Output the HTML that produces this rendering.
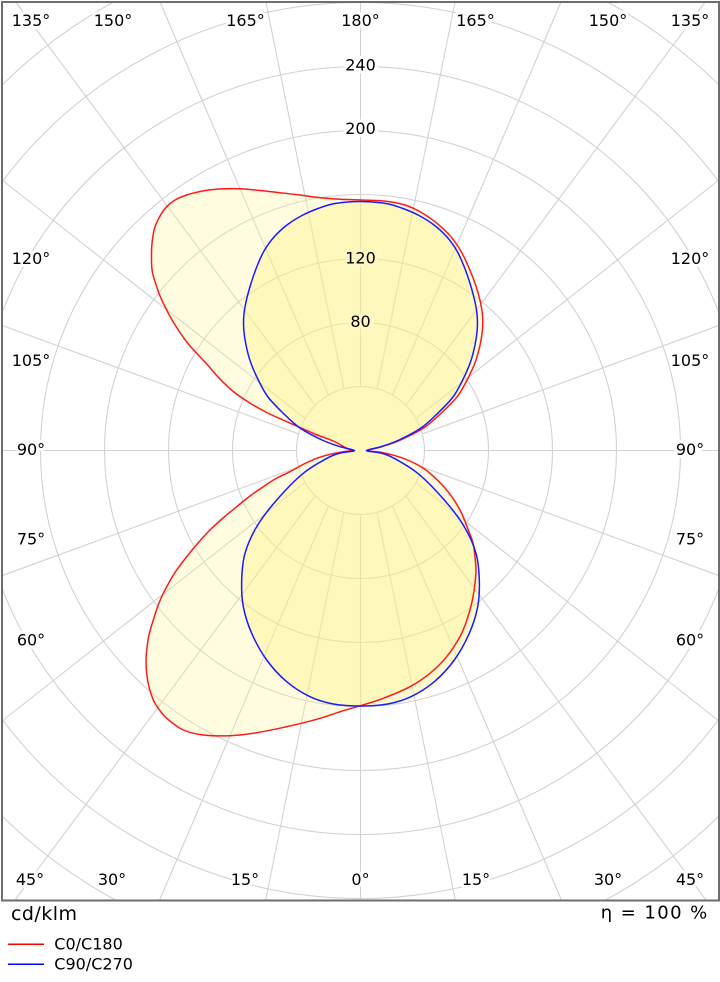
<!DOCTYPE html>
<html><head><meta charset="utf-8"><style>
html,body{margin:0;padding:0;background:#fff;width:720px;height:982px;overflow:hidden;}
svg{display:block;}
text{font-family:"DejaVu Sans","Liberation Sans",sans-serif;font-size:16px;fill:#000;}
.lbl{text-anchor:middle;paint-order:stroke;stroke:#fff;stroke-width:6px;stroke-linejoin:round;}
.lbly{text-anchor:middle;paint-order:stroke;stroke:#fff8c4;stroke-width:6px;stroke-linejoin:round;}
</style></head><body>
<svg width="720" height="982" viewBox="0 0 720 982" xmlns="http://www.w3.org/2000/svg">
<rect x="0" y="0" width="720" height="982" fill="#fff"/>
<g>
 <g fill="none" stroke="#d2d2d2" stroke-width="1.1">
  <circle cx="360.5" cy="450.5" r="64"/>
  <circle cx="360.5" cy="450.5" r="128"/>
  <circle cx="360.5" cy="450.5" r="192"/>
  <circle cx="360.5" cy="450.5" r="256"/>
  <circle cx="360.5" cy="450.5" r="320"/>
  <path d="M2,312.9 A384,384 0 0 1 719,312.9"/>
  <path d="M719,588.1 A384,384 0 0 1 2,588.1"/>
  <path d="M2,181.8 A448,448 0 0 1 719,181.8"/>
  <path d="M719,719.2 A448,448 0 0 1 2,719.2"/>
  <path d="M2,85 A512,512 0 0 1 113.5,2"/>
  <path d="M607.5,2 A512,512 0 0 1 719,85"/>
  <path d="M719,816 A512,512 0 0 1 604.7,900.5"/>
  <path d="M116.3,900.5 A512,512 0 0 1 2,816"/>
  <line x1="360.5" y1="386.5" x2="360.5" y2="2"/>
  <line x1="360.5" y1="514.5" x2="360.5" y2="900.5"/>
  <line x1="296.5" y1="450.5" x2="2" y2="450.5"/>
  <line x1="424.5" y1="450.5" x2="719" y2="450.5"/>
  <line x1="343.94" y1="388.68" x2="265.9" y2="2"/>
  <line x1="328.5" y1="395.07" x2="160" y2="2"/>
  <line x1="315.25" y1="405.25" x2="15.8" y2="2"/>
  <line x1="305.07" y1="418.5" x2="2" y2="180"/>
  <line x1="298.68" y1="433.94" x2="2" y2="325.4"/>
  <line x1="377.06" y1="388.68" x2="455.1" y2="2"/>
  <line x1="392.5" y1="395.07" x2="561" y2="2"/>
  <line x1="405.75" y1="405.25" x2="705.2" y2="2"/>
  <line x1="415.93" y1="418.5" x2="719" y2="180"/>
  <line x1="422.32" y1="433.94" x2="719" y2="325.4"/>
  <line x1="343.94" y1="512.32" x2="265.6" y2="900.5"/>
  <line x1="328.5" y1="505.93" x2="159.4" y2="900.5"/>
  <line x1="315.25" y1="495.75" x2="14.65" y2="900.5"/>
  <line x1="305.07" y1="482.5" x2="2" y2="721"/>
  <line x1="298.68" y1="467.06" x2="2" y2="575.7"/>
  <line x1="377.06" y1="512.32" x2="455.4" y2="900.5"/>
  <line x1="392.5" y1="505.93" x2="561.6" y2="900.5"/>
  <line x1="405.75" y1="495.75" x2="706.35" y2="900.5"/>
  <line x1="415.93" y1="482.5" x2="719" y2="721"/>
  <line x1="422.32" y1="467.06" x2="719" y2="575.7"/>
 </g>
 <text class="lbl" x="31" y="26">135°</text>
 <text class="lbl" x="113" y="26">150°</text>
 <text class="lbl" x="245.5" y="26">165°</text>
 <text class="lbl" x="360.5" y="26">180°</text>
 <text class="lbl" x="475.5" y="26">165°</text>
 <text class="lbl" x="608" y="26">150°</text>
 <text class="lbl" x="690" y="26">135°</text>
 <text class="lbl" x="30" y="885">45°</text>
 <text class="lbl" x="112" y="885">30°</text>
 <text class="lbl" x="245" y="885">15°</text>
 <text class="lbl" x="360.5" y="885">0°</text>
 <text class="lbl" x="476" y="885">15°</text>
 <text class="lbl" x="608" y="885">30°</text>
 <text class="lbl" x="690" y="885">45°</text>
 <text class="lbl" x="31" y="264">120°</text>
 <text class="lbl" x="31" y="366">105°</text>
 <text class="lbl" x="31" y="455">90°</text>
 <text class="lbl" x="31" y="544.5">75°</text>
 <text class="lbl" x="31" y="645.5">60°</text>
 <text class="lbl" x="690" y="264">120°</text>
 <text class="lbl" x="690" y="366">105°</text>
 <text class="lbl" x="690" y="455">90°</text>
 <text class="lbl" x="690" y="544.5">75°</text>
 <text class="lbl" x="690" y="645.5">60°</text>
 <text class="lbl" x="360.5" y="70.5">240</text>
 <text class="lbl" x="360.5" y="134">200</text>

 <polygon class="s" fill="rgba(255,245,140,0.27)" stroke="none" points="360.5,705.7 343.3,710.7 316.7,719.3 286.7,726.7 256.7,732.7 230,735.7 203.3,735 183.3,730 166.7,718.3 158,708 153.3,700 149,687 146.7,673.3 146,661 146.7,650 149,635 153.3,620 159,603 166.7,586.7 176,571 186.7,556.7 198,543 210,530 223,518 236.7,506.7 250,496 263.3,486.7 276,478.5 290,471.7 303,464.5 316.7,458.3 330,454.3 343.3,451.7 352,450.5 346.7,448.3 333.3,441 316,434.5 300,427.5 283,420 266.7,412.5 249,402.5 233.3,391.5 219,378 206.7,364 190,346 181.7,335 172,320 166.7,310 160,296 156.7,286.7 153,275 151.7,266.7 151.5,256 151.7,246.7 153,236 155,226.7 160,216 166.7,206.7 175,200 186.7,195 200,191.5 213.3,189.5 226,188.8 240,188.8 260,190.5 280,192.7 300,195 316.7,197.3 335,199 360.5,200 384,201 404.9,205 421.6,212.6 437.3,223.6 450.9,236.7 461.3,251.8 469,267.9 476,286 480.2,301.1 482.5,315.2 482.5,329.3 480.2,344.4 475.5,361.5 467.3,379.6 457.2,396.7 441.2,413.1 423.7,427.9 400.7,439.9 381.9,446.7 368,450.5 383.3,452.7 403.3,458.3 418,465 430,473.3 446.7,490 460,510 468.3,530 473,543 475,556.7 476,570 475,583.3 473,597 470,610 465.5,624 460,636.7 446.7,656.7 430,673.3 410,686.7 383.3,698.3"/>
 <polygon class="s" fill="rgba(255,240,120,0.35)" stroke="none" points="360.5,706 333.3,704 310,696.7 286.7,681.7 266.7,660 251.7,633.3 243.3,606.7 241.7,580 245,553.3 256.7,526.7 276.7,500 303.3,473.3 330,456.7 343,452.5 354.5,450.5 340,446.7 322,440 300,428 283.3,413.3 268,397 258.3,380 250.5,362 246,345 243.8,330 243.8,316 246,302 250.5,285 256.7,267 264,251 274,237 287,225 302,215.5 318,208.5 335,203.5 360.5,201.5 386,203.5 403,208.5 419,215.5 434,225 447,237 457,251 464.3,267 470.5,285 475,302 477.2,316 477.2,330 475,345 470.5,362 462.7,380 453,397 437.7,413.3 421,428 399,440 381,446.7 366.5,450.5 378,452.5 391,456.7 417.7,473.3 444.3,500 464.3,526.7 476,553.3 479.3,580 477.7,606.7 469.3,633.3 454.3,660 434.3,681.7 411,696.7 387.7,704"/>

 <text class="lbly" x="360.5" y="263.5">120</text>
 <text class="lbly" x="360.5" y="327">80</text>

 <polygon class="s" fill="none" stroke="#ff1a1a" stroke-width="1.5" stroke-linejoin="round" points="360.5,705.7 343.3,710.7 316.7,719.3 286.7,726.7 256.7,732.7 230,735.7 203.3,735 183.3,730 166.7,718.3 158,708 153.3,700 149,687 146.7,673.3 146,661 146.7,650 149,635 153.3,620 159,603 166.7,586.7 176,571 186.7,556.7 198,543 210,530 223,518 236.7,506.7 250,496 263.3,486.7 276,478.5 290,471.7 303,464.5 316.7,458.3 330,454.3 343.3,451.7 352,450.5 346.7,448.3 333.3,441 316,434.5 300,427.5 283,420 266.7,412.5 249,402.5 233.3,391.5 219,378 206.7,364 190,346 181.7,335 172,320 166.7,310 160,296 156.7,286.7 153,275 151.7,266.7 151.5,256 151.7,246.7 153,236 155,226.7 160,216 166.7,206.7 175,200 186.7,195 200,191.5 213.3,189.5 226,188.8 240,188.8 260,190.5 280,192.7 300,195 316.7,197.3 335,199 360.5,200 384,201 404.9,205 421.6,212.6 437.3,223.6 450.9,236.7 461.3,251.8 469,267.9 476,286 480.2,301.1 482.5,315.2 482.5,329.3 480.2,344.4 475.5,361.5 467.3,379.6 457.2,396.7 441.2,413.1 423.7,427.9 400.7,439.9 381.9,446.7 368,450.5 383.3,452.7 403.3,458.3 418,465 430,473.3 446.7,490 460,510 468.3,530 473,543 475,556.7 476,570 475,583.3 473,597 470,610 465.5,624 460,636.7 446.7,656.7 430,673.3 410,686.7 383.3,698.3"/>
 <polygon class="s" fill="none" stroke="#1a1aff" stroke-width="1.5" stroke-linejoin="round" points="360.5,706 333.3,704 310,696.7 286.7,681.7 266.7,660 251.7,633.3 243.3,606.7 241.7,580 245,553.3 256.7,526.7 276.7,500 303.3,473.3 330,456.7 343,452.5 354.5,450.5 340,446.7 322,440 300,428 283.3,413.3 268,397 258.3,380 250.5,362 246,345 243.8,330 243.8,316 246,302 250.5,285 256.7,267 264,251 274,237 287,225 302,215.5 318,208.5 335,203.5 360.5,201.5 386,203.5 403,208.5 419,215.5 434,225 447,237 457,251 464.3,267 470.5,285 475,302 477.2,316 477.2,330 475,345 470.5,362 462.7,380 453,397 437.7,413.3 421,428 399,440 381,446.7 366.5,450.5 378,452.5 391,456.7 417.7,473.3 444.3,500 464.3,526.7 476,553.3 479.3,580 477.7,606.7 469.3,633.3 454.3,660 434.3,681.7 411,696.7 387.7,704"/>
</g>
<rect x="2" y="2" width="717" height="898.5" fill="none" stroke="#6e6e6e" stroke-width="2"/>

<text x="11" y="920" style="font-size:19px" textLength="66" lengthAdjust="spacing">cd/klm</text>
<text x="600.7" y="918.5" style="font-size:18px" textLength="106.5" lengthAdjust="spacing">η = 100 %</text>

<line x1="8" y1="944.3" x2="44" y2="944.3" stroke="#ff0000" stroke-width="1.5"/>
<line x1="8" y1="964.3" x2="44" y2="964.3" stroke="#0000ff" stroke-width="1.5"/>
<text x="54.3" y="949.3">C0/C180</text>
<text x="54.3" y="969.3">C90/C270</text>
</svg>
<script>
(function(){
  var ns='http://www.w3.org/2000/svg';
  var pgs=document.querySelectorAll('polygon.s');
  for(var k=0;k<pgs.length;k++){
    var pg=pgs[k];
    var nums=pg.getAttribute('points').trim().split(/[\s,]+/).map(Number);
    var p=[];for(var i=0;i+1<nums.length;i+=2)p.push([nums[i],nums[i+1]]);
    var n=p.length;
    var d='M'+p[0][0].toFixed(2)+','+p[0][1].toFixed(2);
    for(var i=0;i<n;i++){
      var p0=p[(i-1+n)%n],p1=p[i],p2=p[(i+1)%n],p3=p[(i+2)%n];
      var c1x=p1[0]+(p2[0]-p0[0])/6,c1y=p1[1]+(p2[1]-p0[1])/6;
      var c2x=p2[0]-(p3[0]-p1[0])/6,c2y=p2[1]-(p3[1]-p1[1])/6;
      d+=' C'+c1x.toFixed(2)+','+c1y.toFixed(2)+' '+c2x.toFixed(2)+','+c2y.toFixed(2)+' '+p2[0].toFixed(2)+','+p2[1].toFixed(2);
    }
    d+='Z';
    var path=document.createElementNS(ns,'path');
    var at=['fill','stroke','stroke-width','stroke-linejoin'];
    for(var j=0;j<at.length;j++){var v=pg.getAttribute(at[j]);if(v!==null)path.setAttribute(at[j],v);}
    path.setAttribute('d',d);
    pg.parentNode.replaceChild(path,pg);
  }
})();
</script>
</body></html>
